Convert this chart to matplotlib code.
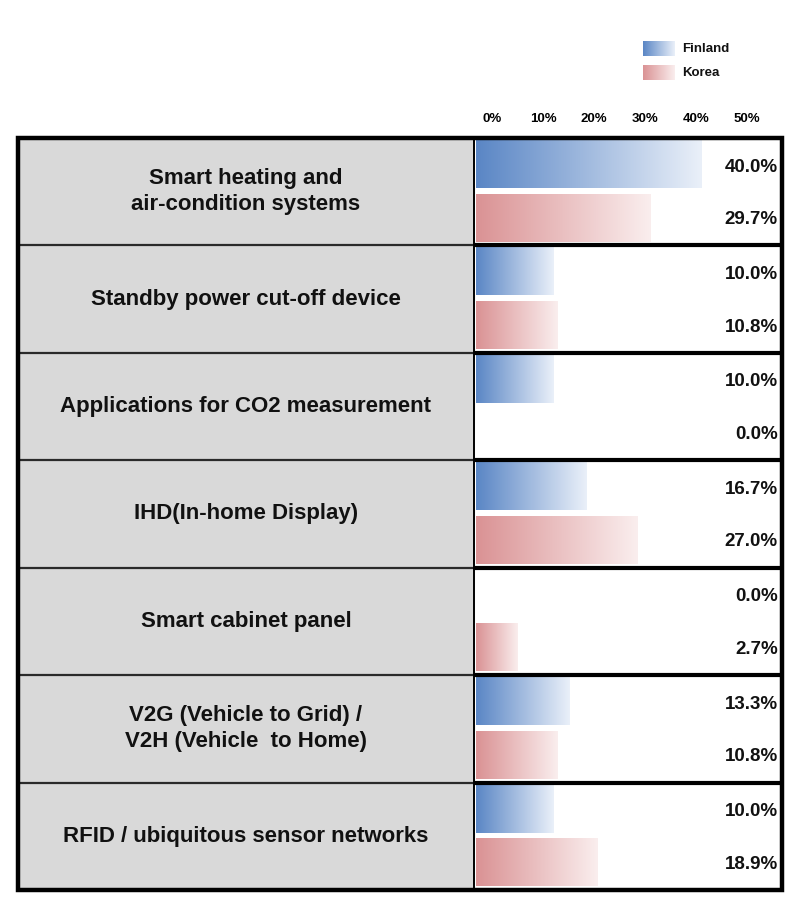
import numpy as np
import matplotlib
matplotlib.use("Agg")
import matplotlib.pyplot as plt
from matplotlib.colors import LinearSegmentedColormap

categories = [
    "Smart heating and\nair-condition systems",
    "Standby power cut-off device",
    "Applications for CO2 measurement",
    "IHD(In-home Display)",
    "Smart cabinet panel",
    "V2G (Vehicle to Grid) /\nV2H (Vehicle  to Home)",
    "RFID / ubiquitous sensor networks",
]
finland = [40.0, 10.0, 10.0, 16.7, 0.0, 13.3, 10.0]
korea = [29.7, 10.8, 0.0, 27.0, 2.7, 10.8, 18.9]
series_names = ["Finland", "Korea"]
tick_values = [0, 10, 20, 30, 40, 50]

W, H = 804, 900
fig = plt.figure(figsize=(W / 100, H / 100), dpi=100)

def px_rect(x0, y0, x1, y1):
    return [x0 / W, 1 - y1 / H, (x1 - x0) / W, (y1 - y0) / H]

blue_cmap = LinearSegmentedColormap.from_list("b", ["#5a86c5", "#eaf0f9"])
red_cmap = LinearSegmentedColormap.from_list("r", ["#da9294", "#faeeee"])
grad = np.linspace(0, 1, 256).reshape(1, -1)

FONT = "Liberation Sans"
n = len(categories)

# frame geometry (pixels)
L, M, R, T, B = 18, 474, 782, 138, 890

# left label column
axl = fig.add_axes(px_rect(L, T, M, B))
axl.set_xlim(0, 1)
axl.set_ylim(n, 0)
axl.set_facecolor("#d9d9d9")
axl.set_xticks([]); axl.set_yticks([])
for s in axl.spines.values():
    s.set_visible(False)
for i, cat in enumerate(categories):
    axl.text(0.5, i + 0.5, cat, ha="center", va="center", fontsize=16,
             fontweight="bold", family=FONT, color="#111111", linespacing=1.33)
for i in range(1, n):
    axl.axhline(i, color="#2a2a2a", lw=1.6)

# right bar column
axr = fig.add_axes(px_rect(M, T, R, B))
xmin, xmax = -6.0, 56.2
bar_left = -5.6
axr.set_xlim(xmin, xmax)
axr.set_ylim(n, 0)
axr.set_xticks([]); axr.set_yticks([])
for s in axr.spines.values():
    s.set_visible(False)

rows = [(finland, blue_cmap, 0.02, 0.465, 0.27), (korea, red_cmap, 0.525, 0.965, 0.76)]
for vals, cmap, y0, y1, ylab in rows:
    for i, v in enumerate(vals):
        if v > 0:
            axr.imshow(grad, cmap=cmap, aspect="auto", interpolation="bicubic",
                       extent=[bar_left, v, i + y1, i + y0], zorder=2)
        axr.text(0.987, 1 - (i + ylab) / n, f"{v:.1f}%",
                 transform=axr.transAxes, ha="right", va="center",
                 fontsize=13.5, fontweight="bold", family=FONT, color="#111111", zorder=3)
axr.set_xlim(xmin, xmax)
axr.set_ylim(n, 0)
for i in range(1, n):
    axr.axhline(i, color="black", lw=3, zorder=4)

# top tick labels
axt = axr.twiny()
axt.set_xlim(-3.53, 56.86)
axt.set_xticks(tick_values)
axt.set_xticklabels([f"{t}%" for t in tick_values], fontsize=9.5, fontweight="bold",
                    family=FONT)
axt.tick_params(axis="x", length=0, pad=9)
for s in axt.spines.values():
    s.set_visible(False)

# column divider and outer frame
fig.add_artist(plt.Line2D([M / W, M / W], [1 - T / H, 1 - B / H], color="black", lw=1.4))
frame = plt.Rectangle((L / W, 1 - B / H), (R - L) / W, (B - T) / H, fill=False,
                      edgecolor="black", lw=3.2, transform=fig.transFigure)
fig.add_artist(frame)

# legend
axg = fig.add_axes(px_rect(640, 36, 760, 84))
axg.set_xlim(640, 760)
axg.set_ylim(84, 36)
axg.axis("off")
for k, (name, cmap) in enumerate(zip(series_names, [blue_cmap, red_cmap])):
    yc = 49 + 24 * k
    axg.imshow(grad, cmap=cmap, aspect="auto", extent=[643, 675, yc + 7.5, yc - 7.5])
    axg.text(682, yc + 0.5, name, ha="left", va="center", fontsize=9.5,
             fontweight="bold", family=FONT, color="#111111")
axg.set_xlim(640, 760)
axg.set_ylim(84, 36)

fig.savefig("out.png", dpi=100)
